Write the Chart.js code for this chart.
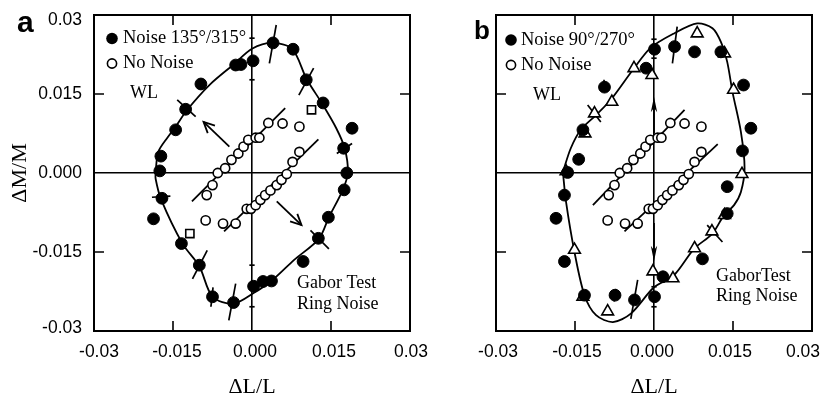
<!DOCTYPE html>
<html>
<head>
<meta charset="utf-8">
<script src="https://cdn.jsdelivr.net/npm/chart.js@4.4.1/dist/chart.umd.min.js"></script>
<style>
  html, body { margin: 0; padding: 0; background: #fff; overflow: hidden; }
  #wrap { position: relative; width: 822px; height: 395px; }
  canvas { position: absolute; top: 0; }
  #chartA { left: 0; }
  #chartB { left: 411px; }
</style>
</head>
<body>
<div id="wrap">
  <canvas id="chartA" width="440" height="395"></canvas>
  <canvas id="chartB" width="411" height="395"></canvas>
</div>
<script>
// ---------- axes ----------
const AXIS_TICKS = [-0.03, -0.015, 0, 0.015, 0.03];
const AXIS_TICK_LABELS = ['-0.03', '-0.015', '0.000', '0.015', '0.03'];
const INNER_TICKS = [-0.015, 0.015];

// ---------- panel a: Noise 135°/315° (filled circles) ----------
const noiseA_x = [0.0002, -0.0021, -0.0031, 0.0040, 0.0078, 0.0103, 0.0135, 0.0190, 0.0174, 0.0180, 0.0175, 0.0145, 0.0126, 0.0097,
                  0.0037, 0.0021, 0.0003, -0.0035, -0.0075, -0.0100, -0.0134, -0.0187, -0.0171, -0.0175, -0.0173, -0.0145, -0.0126, -0.0097];
const noiseA_y = [0.0213, 0.0206, 0.0205, 0.0247, 0.0235, 0.0177, 0.0133, 0.0085, 0.0047, 0.0000, -0.0032, -0.0084, -0.0124, -0.0168,
                  -0.0205, -0.0206, -0.0215, -0.0246, -0.0235, -0.0175, -0.0134, -0.0087, -0.0048, 0.0004, 0.0032, 0.0082, 0.0121, 0.0169];

// fitted contour, panel a
const contourA_x = [-0.0183, -0.0178, -0.0160, -0.0145, -0.0123, -0.0080, -0.0034, 0.0000, 0.0038, 0.0076, 0.0104, 0.0133, 0.0160, 0.0176,
                    0.0182, 0.0172, 0.0146, 0.0127, 0.0080, 0.0038, 0.0003, -0.0035, -0.0075, -0.0100, -0.0132, -0.0173, -0.0183, -0.0183];
const contourA_y = [0.0002, 0.0040, 0.0068, 0.0088, 0.0120, 0.0168, 0.0207, 0.0236, 0.0247, 0.0236, 0.0178, 0.0132, 0.0085, 0.0047,
                    0.0001, -0.0033, -0.0084, -0.0125, -0.0165, -0.0204, -0.0228, -0.0248, -0.0235, -0.0177, -0.0134, -0.0049, -0.0011, 0.0002];

// open squares, panel a
const squareA_x = [0.0113, -0.0118];
const squareA_y = [0.0120, -0.0115];

// ---------- No Noise (open circles), same in both panels ----------
const noNoise_x = [-0.0086, -0.0075, -0.0065, -0.0051, -0.0039, -0.0026, -0.0016, -0.0007, 0.0007, 0.0014, 0.0031, 0.0058, 0.0090,
                   -0.0088, -0.0055, -0.0031, -0.0010, -0.0002, 0.0007, 0.0016, 0.0025, 0.0035, 0.0047, 0.0056, 0.0066, 0.0077, 0.0090];
const noNoise_y = [-0.0042, -0.0023, 0.0000, 0.0009, 0.0025, 0.0037, 0.0050, 0.0063, 0.0067, 0.0067, 0.0095, 0.0094, 0.0088,
                   -0.0090, -0.0096, -0.0096, -0.0068, -0.0068, -0.0061, -0.0051, -0.0042, -0.0033, -0.0023, -0.0013, -0.0002, 0.0021, 0.0040];

// regression lines through the No Noise points
const fitA_upper_x = [-0.0114, 0.0063];
const fitA_upper_y = [-0.0054, 0.0123];
const fitA_lower_x = [-0.0053, 0.0126];
const fitA_lower_y = [-0.0111, 0.0064];
const fitB_upper_x = [-0.0116, 0.0058];
const fitB_upper_y = [-0.0061, 0.0120];
const fitB_lower_x = [-0.0056, 0.0121];
const fitB_lower_y = [-0.0111, 0.0055];

// error bars, panel a (segment ends)
const errA_x1 = [0.0046, 0.0117, -0.0142, -0.0085, -0.0074, -0.0031, 0.0111, 0.0190, -0.0190, -0.0005, -0.0005, -0.0005, -0.0005];
const errA_y1 = [0.0281, 0.0199, 0.0139, -0.0147, -0.0217, -0.0210, -0.0109, 0.0056, -0.0046, 0.0256, 0.0177, -0.0175, -0.0254];
const errA_x2 = [0.0033, 0.0089, -0.0107, -0.0113, -0.0078, -0.0044, 0.0146, 0.0161, -0.0155, 0.0005, 0.0005, 0.0005, 0.0005];
const errA_y2 = [0.0208, 0.0148, 0.0107, -0.0201, -0.0254, -0.0280, -0.0144, 0.0037, -0.0044, 0.0256, 0.0177, -0.0175, -0.0254];

// arrows, panel a (tail -> head)
const arrowA_x1 = [-0.0043, 0.0047];
const arrowA_y1 = [0.0050, -0.0054];
const arrowA_x2 = [-0.0092, 0.0094];
const arrowA_y2 = [0.0097, -0.0099];

// ---------- panel b: Noise 90°/270° (filled circles) ----------
const noiseB_x = [-0.0094, -0.0135, -0.0143, -0.0164, -0.0015, 0.0001, 0.0039, 0.0077, 0.0127, 0.0170, 0.0184, 0.0168, 0.0139, 0.0139,
                  0.0092, 0.0017, 0.0001, -0.0037, -0.0074, -0.0132, -0.0170, -0.0186, -0.0170];
const noiseB_y = [0.0163, 0.0082, 0.0026, 0.0001, 0.0199, 0.0235, 0.0240, 0.0230, 0.0230, 0.0167, 0.0085, 0.0042, -0.0026, -0.0077,
                  -0.0163, -0.0197, -0.0235, -0.0241, -0.0232, -0.0232, -0.0168, -0.0086, -0.0042];

// open triangles, panel b
const triB_x = [-0.0080, -0.0113, -0.0131, -0.0167, -0.0038, -0.0004, 0.0082, 0.0134, 0.0151, 0.0167, 0.0134, 0.0110, 0.0077, 0.0036,
                -0.0002, -0.0088, -0.0135, -0.0151];
const triB_y = [0.0135, 0.0113, 0.0075, 0.0003, 0.0199, 0.0186, 0.0265, 0.0227, 0.0158, -0.0002, -0.0080, -0.0111, -0.0143, -0.0200,
                -0.0187, -0.0263, -0.0235, -0.0146];

// fitted contour, panel b
const contourB_x = [-0.0173, -0.0158, -0.0139, -0.0110, -0.0082, -0.0040, -0.0006, 0.0038, 0.0082, 0.0111, 0.0127, 0.0139, 0.0149, 0.0165,
                    0.0172, 0.0165, 0.0152, 0.0133, 0.0111, 0.0076, 0.0038, 0.0000, -0.0044, -0.0078, -0.0110, -0.0132, -0.0151, -0.0167, -0.0173];
const contourB_y = [0.0002, 0.0047, 0.0082, 0.0110, 0.0139, 0.0196, 0.0238, 0.0265, 0.0284, 0.0275, 0.0249, 0.0211, 0.0154, 0.0078,
                    0.0009, -0.0036, -0.0061, -0.0080, -0.0115, -0.0144, -0.0194, -0.0217, -0.0267, -0.0283, -0.0270, -0.0232, -0.0150, -0.0055, 0.0002];

// error bars, panel b
const errB_x1 = [0.0044, -0.0126, 0.0101, -0.0031, -0.0072, -0.0095, -0.0005, -0.0005, -0.0005, -0.0005];
const errB_y1 = [0.0278, 0.0129, -0.0099, -0.0203, -0.0220, 0.0177, 0.0254, 0.0218, -0.0216, -0.0254];
const errB_x2 = [0.0035, -0.0101, 0.0130, -0.0044, -0.0076, -0.0093, 0.0005, 0.0005, 0.0005, 0.0005];
const errB_y2 = [0.0208, 0.0097, -0.0131, -0.0277, -0.0244, 0.0158, 0.0254, 0.0218, -0.0216, -0.0254];

// arrows, panel b
const arrowB_x1 = [0, 0];
const arrowB_y1 = [0.0075, -0.0095];
const arrowB_x2 = [0, 0];
const arrowB_y2 = [0.0145, -0.0168];

// ---------- drawing helpers ----------
const SERIF = "'Liberation Serif', 'Times New Roman', serif";
const SANS = "'Liberation Sans', Arial, sans-serif";
const INK = '#000';

function pts(xs, ys) { return xs.map((v, i) => ({ x: v, y: ys[i] })); }

function lineSet(xs, ys, width, tension) {
  return { data: pts(xs, ys), showLine: true, borderColor: INK, borderWidth: width, pointRadius: 0,
           tension: tension || 0, fill: false, order: 5 };
}

function segmentSets(x1, y1, x2, y2) {
  return x1.map((_, i) => ({ data: [{ x: x1[i], y: y1[i] }, { x: x2[i], y: y2[i] }], showLine: true,
                             borderColor: INK, borderWidth: 1.7, pointRadius: 0, order: 4 }));
}

function markerSet(xs, ys, style, radius, filled) {
  return { data: pts(xs, ys), showLine: false, pointStyle: style, pointRadius: radius,
           backgroundColor: filled ? INK : '#fff', borderColor: INK, borderWidth: filled ? 1 : 1.6, order: 1 };
}

function drawArrow(ctx, x1, y1, x2, y2, filled) {
  const ang = Math.atan2(y2 - y1, x2 - x1);
  ctx.beginPath();
  ctx.moveTo(x1, y1);
  ctx.lineTo(filled ? x2 - 6 * Math.cos(ang) : x2, filled ? y2 - 6 * Math.sin(ang) : y2);
  ctx.stroke();
  if (filled) {
    const L = 16, w = 0.2;
    ctx.beginPath();
    ctx.moveTo(x2, y2);
    ctx.lineTo(x2 - L * Math.cos(ang - w), y2 - L * Math.sin(ang - w));
    ctx.lineTo(x2 - 0.7 * L * Math.cos(ang), y2 - 0.7 * L * Math.sin(ang));
    ctx.lineTo(x2 - L * Math.cos(ang + w), y2 - L * Math.sin(ang + w));
    ctx.closePath();
    ctx.fill();
  } else {
    const L = 12, w = 0.45;
    ctx.beginPath();
    ctx.moveTo(x2 - L * Math.cos(ang - w), y2 - L * Math.sin(ang - w));
    ctx.lineTo(x2, y2);
    ctx.lineTo(x2 - L * Math.cos(ang + w), y2 - L * Math.sin(ang + w));
    ctx.stroke();
  }
}

// nudge individual tick labels (typeset positions differ slightly from the tick marks)
function nudgeLabels(scale, shifts, axisIndex) {
  if (!shifts || !scale.getLabelItems) return;
  const items = scale.getLabelItems();
  items.forEach((it, i) => {
    if (shifts[i] && it.options && it.options.translation) it.options.translation[axisIndex] += shifts[i];
  });
}

// frame, inward ticks, arrows, legend and labels
const panelDecor = {
  id: 'panelDecor',
  beforeDraw(chart, args, opts) {
    nudgeLabels(chart.scales.x, opts.labelShiftX, 0);
    if (chart.scales.y.options.ticks.display) nudgeLabels(chart.scales.y, opts.labelShiftY, 1);
  },
  beforeDatasetsDraw(chart, args, opts) {
    const { ctx, chartArea: a, scales: { x, y } } = chart;
    const TL = 10;
    ctx.save();
    ctx.strokeStyle = INK;
    ctx.lineWidth = 2;
    ctx.strokeRect(a.left, a.top, a.right - a.left, a.bottom - a.top);
    ctx.lineWidth = 1.6;
    ctx.beginPath();
    INNER_TICKS.forEach(v => {
      const px = x.getPixelForValue(v), py = y.getPixelForValue(v);
      ctx.moveTo(px, a.top); ctx.lineTo(px, a.top + TL);
      ctx.moveTo(px, a.bottom); ctx.lineTo(px, a.bottom - TL);
      ctx.moveTo(a.left, py); ctx.lineTo(a.left + TL, py);
      ctx.moveTo(a.right, py); ctx.lineTo(a.right - TL, py);
    });
    ctx.stroke();
    ctx.restore();
  },
  afterDatasetsDraw(chart, args, opts) {
    const { ctx, scales: { x, y } } = chart;
    ctx.save();
    ctx.strokeStyle = INK;
    ctx.fillStyle = INK;
    ctx.lineWidth = 1.8;
    opts.arrows.x1.forEach((_, i) => {
      drawArrow(ctx,
        x.getPixelForValue(opts.arrows.x1[i]), y.getPixelForValue(opts.arrows.y1[i]),
        x.getPixelForValue(opts.arrows.x2[i]), y.getPixelForValue(opts.arrows.y2[i]),
        opts.arrows.filled);
    });

    // legend
    const L = opts.legend;
    ctx.beginPath();
    ctx.arc(L.mx, L.y1, 5.8, 0, Math.PI * 2);
    ctx.fill();
    ctx.beginPath();
    ctx.lineWidth = 1.6;
    ctx.arc(L.mx, L.y2, 4.6, 0, Math.PI * 2);
    ctx.stroke();
    ctx.font = "18.5px " + SERIF;
    ctx.textBaseline = 'middle';
    ctx.textAlign = 'left';
    ctx.fillText(L.noiseText, L.tx, L.y1);
    ctx.fillText('No Noise', L.tx, L.y2);
    ctx.font = "18px " + SERIF;
    ctx.fillText('WL', L.wx, L.wy);

    // condition label
    const C = opts.condition;
    ctx.fillText(C.line1, C.x, C.y1);
    ctx.fillText('Ring Noise', C.x, C.y2);

    // panel letter
    const P = opts.letter;
    ctx.font = "bold " + P.size + "px " + SANS;
    ctx.textBaseline = 'alphabetic';
    ctx.fillText(P.text, P.x, P.y);
    ctx.restore();
  }
};

function scalesFor(showY, yWidth) {
  return {
    x: {
      type: 'linear', min: -0.03, max: 0.03,
      afterBuildTicks: s => { s.ticks = AXIS_TICKS.map(v => ({ value: v })); },
      ticks: { callback: (v, i) => AXIS_TICK_LABELS[i], font: { family: SANS, size: 17.5 }, color: INK,
               padding: 11, maxRotation: 0, autoSkip: false },
      grid: { drawTicks: false, lineWidth: 1.6,
              color: c => (c.tick && c.tick.value === 0) ? INK : 'rgba(0,0,0,0)' },
      border: { display: false },
      title: { display: true, text: 'ΔL/L', color: INK, padding: 0,
               font: { family: SERIF, size: 22, lineHeight: 0.75 } },
      afterFit: s => { s.height = 64; s.paddingLeft = 0; s.paddingRight = 0; }
    },
    y: {
      type: 'linear', min: -0.03, max: 0.03,
      afterBuildTicks: s => { s.ticks = AXIS_TICKS.map(v => ({ value: v })); },
      ticks: { display: showY, callback: (v, i) => AXIS_TICK_LABELS[i], font: { family: SANS, size: 17.5 },
               color: INK, padding: 12, autoSkip: false },
      grid: { drawTicks: false, lineWidth: 1.6,
              color: c => (c.tick && c.tick.value === 0) ? INK : 'rgba(0,0,0,0)' },
      border: { display: false },
      title: { display: showY, text: 'ΔM/M', color: INK, padding: { top: 7, bottom: 0 },
               font: { family: SERIF, size: 22, lineHeight: 1.2 } },
      afterFit: s => { s.width = yWidth; s.paddingTop = 0; s.paddingBottom = 0; }
    }
  };
}

const common = {
  responsive: false, animation: false, events: [],
  plugins: { legend: { display: false }, tooltip: { enabled: false } }
};

// ---------- panel a ----------
new Chart(document.getElementById('chartA'), {
  type: 'scatter',
  data: {
    datasets: [
      markerSet(noiseA_x, noiseA_y, 'circle', 5.9, true),
      markerSet(noNoise_x, noNoise_y, 'circle', 4.6, false),
      markerSet(squareA_x, squareA_y, 'rect', 5.8, false),
      lineSet(contourA_x, contourA_y, 1.8, 0.3),
      lineSet(fitA_upper_x, fitA_upper_y, 1.8),
      lineSet(fitA_lower_x, fitA_lower_y, 1.8),
      ...segmentSets(errA_x1, errA_y1, errA_x2, errA_y2)
    ]
  },
  options: Object.assign({}, common, {
    layout: { padding: { left: 0, right: 30, top: 15, bottom: 0 } },
    scales: scalesFor(true, 94),
    plugins: Object.assign({}, common.plugins, {
      panelDecor: {
        labelShiftX: [5, 4, 3, 3, 1],
        labelShiftY: [-3, 0, 0, 0, 5],
        arrows: { x1: arrowA_x1, y1: arrowA_y1, x2: arrowA_x2, y2: arrowA_y2, filled: false },
        legend: { mx: 112, y1: 38.5, y2: 63.5, tx: 123, noiseText: 'Noise 135°/315°', wx: 130, wy: 93 },
        condition: { line1: 'Gabor Test', x: 297, y1: 283.5, y2: 304.5 },
        letter: { text: 'a', x: 17, y: 32, size: 30 }
      }
    })
  }),
  plugins: [panelDecor]
});

// ---------- panel b ----------
new Chart(document.getElementById('chartB'), {
  type: 'scatter',
  data: {
    datasets: [
      markerSet(noiseB_x, noiseB_y, 'circle', 5.9, true),
      markerSet(triB_x, triB_y, 'triangle', 6.8, false),
      markerSet(noNoise_x, noNoise_y, 'circle', 4.6, false),
      lineSet(contourB_x, contourB_y, 1.8, 0.3),
      lineSet(fitB_upper_x, fitB_upper_y, 1.8),
      lineSet(fitB_lower_x, fitB_lower_y, 1.8),
      ...segmentSets(errB_x1, errB_y1, errB_x2, errB_y2)
    ]
  },
  options: Object.assign({}, common, {
    layout: { padding: { left: 0, right: 10, top: 15, bottom: 0 } },
    scales: scalesFor(false, 85),
    plugins: Object.assign({}, common.plugins, {
      panelDecor: {
        labelShiftX: [2, 2, -2, -3, -9],
        labelShiftY: null,
        arrows: { x1: arrowB_x1, y1: arrowB_y1, x2: arrowB_x2, y2: arrowB_y2, filled: true },
        legend: { mx: 100, y1: 40, y2: 65, tx: 110, noiseText: 'Noise 90°/270°', wx: 122, wy: 95 },
        condition: { line1: 'GaborTest', x: 305, y1: 276, y2: 296.5 },
        letter: { text: 'b', x: 63, y: 39, size: 26 }
      }
    })
  }),
  plugins: [panelDecor]
});
</script>
</body>
</html>
